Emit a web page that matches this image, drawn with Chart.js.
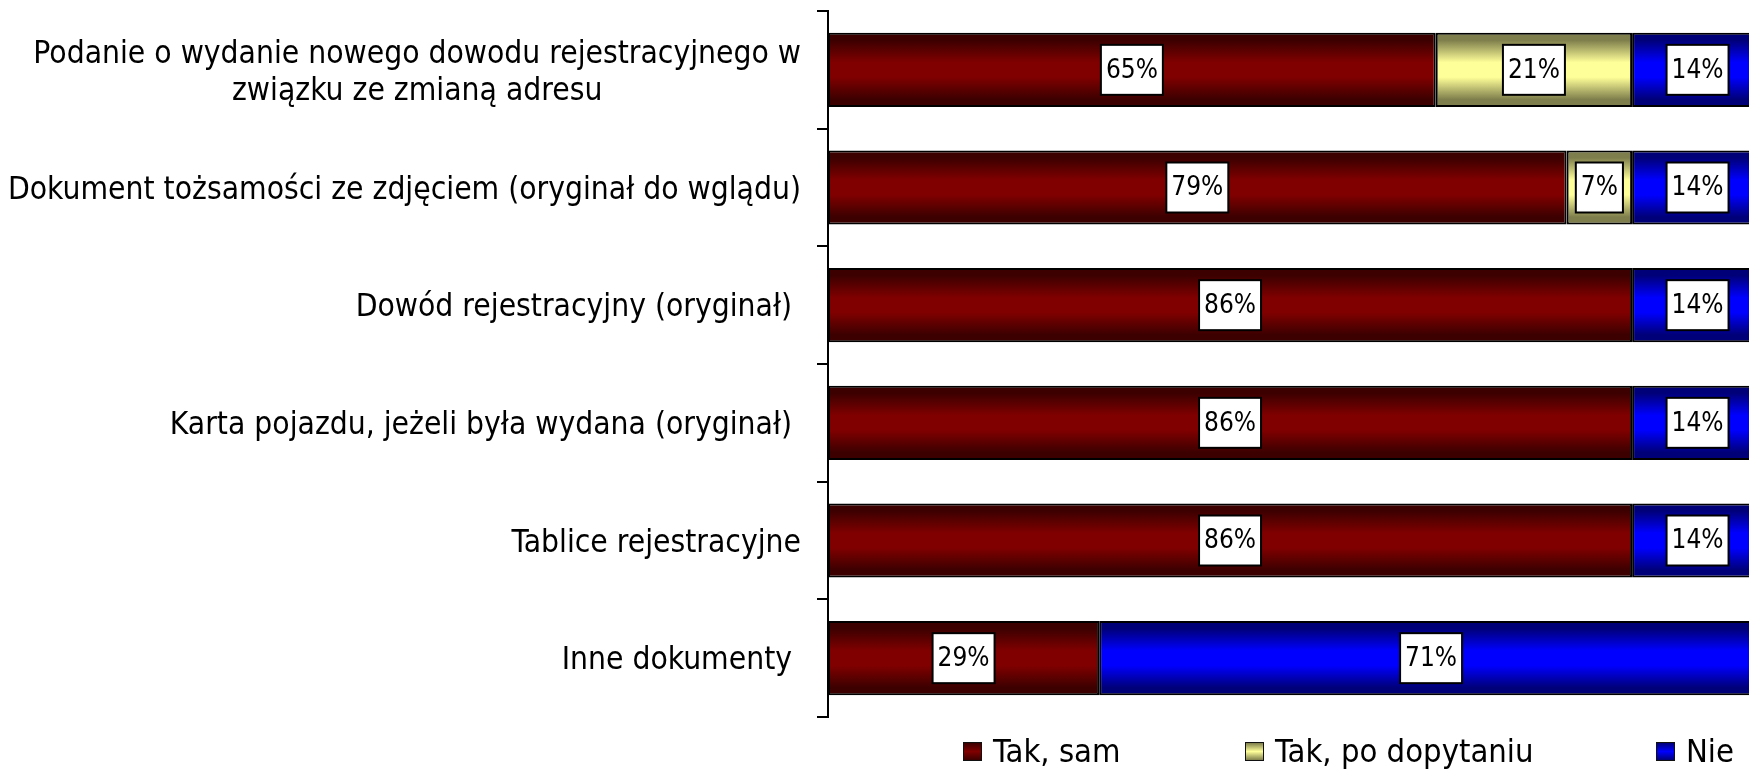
<!DOCTYPE html>
<html lang="pl">
<head>
<meta charset="utf-8">
<title>Dokumenty</title>
<script src="https://cdn.jsdelivr.net/npm/chart.js@4.4.1/dist/chart.umd.min.js"></script>
<style>
  html, body { margin: 0; padding: 0; background: #fff; overflow: hidden; }
  #lienzo { position: relative; width: 1763px; height: 769px; }
  .pozycja {
    position: absolute; top: 731px; height: 40px;
    display: flex; align-items: center;
    font: 32.5px "DejaVu Sans Condensed", "DejaVu Sans", sans-serif; color: #000; white-space: nowrap;
  }
  .kwadrat { width: 17px; height: 17px; border: 1.5px solid #111; margin-right: 11px; }
</style>
</head>
<body>
<div id="lienzo">
  <canvas id="grafico" width="1763" height="769"></canvas>
</div>
<script>
const kategorie = [
  ['Podanie o wydanie nowego dowodu rejestracyjnego w', 'związku ze zmianą adresu'],
  'Dokument tożsamości ze zdjęciem (oryginał do wglądu)',
  'Dowód rejestracyjny (oryginał) ',
  'Karta pojazdu, jeżeli była wydana (oryginał) ',
  'Tablice rejestracyjne',
  'Inne dokumenty '
];
const serie = ['Tak, sam', 'Tak, po dopytaniu', 'Nie'];
const takSam = [65, 79, 86, 86, 86, 29];
const takPoDopytaniu = [21, 7, 0, 0, 0, 0];
const nie = [14, 14, 14, 14, 14, 71];

const FONT = '"DejaVu Sans Condensed", "DejaVu Sans", sans-serif';
const GRUBOSC = 0.63;
// kolory: [ciemny brzeg, jasny środek]
const kolory = [
  ['#3c0000', '#800000'],
  ['#7e7e4c', '#ffff99'],
  ['#000078', '#0000ff']
];
const legendaX = [963, 1245, 1656];

// pionowy gradient dla każdego paska osobno
function gradient(ciemny, jasny) {
  return (ctx) => {
    const chart = ctx.chart;
    const os = chart.scales.y;
    if (!os || ctx.type !== 'data') return jasny;
    const pas = (os.bottom - os.top) / kategorie.length;
    const srodek = os.getPixelForValue(ctx.dataIndex);
    if (!isFinite(srodek) || !(pas > 0)) return jasny;
    const pol = pas * GRUBOSC / 2;
    const g = chart.ctx.createLinearGradient(0, srodek - pol, 0, srodek + pol);
    g.addColorStop(0, ciemny);
    g.addColorStop(0.1, ciemny);
    g.addColorStop(0.4, jasny);
    g.addColorStop(0.6, jasny);
    g.addColorStop(0.9, ciemny);
    g.addColorStop(1, ciemny);
    return g;
  };
}

// opisy kategorii: blok wyrównany do prawej, linie wyśrodkowane w bloku
const etykietyKategorii = {
  id: 'etykietyKategorii',
  afterDraw(chart) {
    const c = chart.ctx;
    const os = chart.scales.y;
    const prawa = chart.chartArea.left - 27;
    c.save();
    c.font = '31.5px ' + FONT;
    c.fillStyle = '#000';
    c.textAlign = 'center';
    c.textBaseline = 'middle';
    kategorie.forEach((k, i) => {
      const linie = Array.isArray(k) ? k : [k];
      const szer = Math.max(...linie.map(l => c.measureText(l).width));
      const y0 = os.getPixelForValue(i) + 3 - (linie.length - 1) * 37 / 2;
      linie.forEach((l, j) => c.fillText(l, prawa - szer / 2, y0 + j * 37));
    });
    c.restore();
  }
};

const etykietyWartosci = {
  id: 'etykietyWartosci',
  afterDatasetsDraw(chart) {
    const c = chart.ctx;
    c.save();
    c.font = '26px ' + FONT;
    c.textAlign = 'center';
    c.textBaseline = 'middle';
    chart.data.datasets.forEach((ds, d) => {
      chart.getDatasetMeta(d).data.forEach((bar, i) => {
        const v = ds.data[i];
        if (!v) return;
        const {x, base, y} = bar.getProps(['x', 'base', 'y'], true);
        const cx = (x + base) / 2;
        const tekst = v + '%';
        const w = c.measureText(tekst).width + 10;
        const h = 50;
        c.fillStyle = '#fff';
        c.fillRect(cx - w / 2, y - h / 2, w, h);
        c.strokeStyle = '#000';
        c.lineWidth = 2;
        c.strokeRect(cx - w / 2, y - h / 2, w, h);
        c.fillStyle = '#000';
        c.fillText(tekst, cx, y + 1);
      });
    });
    c.restore();
  }
};

document.addEventListener('DOMContentLoaded', () => {
  const lienzo = document.querySelector('#grafico');
  const wartosci = [takSam, takPoDopytaniu, nie];

  new Chart(lienzo, {
    type: 'bar',
    data: {
      labels: kategorie,
      datasets: serie.map((nazwa, s) => ({
        label: nazwa,
        data: wartosci[s],
        backgroundColor: gradient(kolory[s][0], kolory[s][1]),
        borderColor: '#000',
        borderWidth: 2,
        borderSkipped: false,
        categoryPercentage: 1,
        barPercentage: GRUBOSC
      }))
    },
    options: {
      indexAxis: 'y',
      responsive: false,
      animation: false,
      layout: { padding: { top: 11, bottom: 52, left: 0, right: 0 } },
      plugins: { legend: { display: false }, tooltip: { enabled: false } },
      scales: {
        x: { stacked: true, min: 0, max: 100, display: false },
        y: {
          stacked: true,
          offset: true,
          grid: { offset: true, drawOnChartArea: false, color: '#000', lineWidth: 2, tickLength: 11 },
          border: { color: '#000', width: 2 },
          ticks: { display: false },
          afterFit: (os) => { os.width = 828; }
        }
      }
    },
    plugins: [etykietyKategorii, etykietyWartosci]
  });

  // legenda pod wykresem
  const pojemnik = document.querySelector('#lienzo');
  serie.forEach((nazwa, s) => {
    const poz = document.createElement('div');
    poz.className = 'pozycja';
    poz.style.left = legendaX[s] + 'px';
    const kw = document.createElement('span');
    kw.className = 'kwadrat';
    kw.style.background = `linear-gradient(${kolory[s][0]}, ${kolory[s][1]} 50%, ${kolory[s][0]})`;
    poz.appendChild(kw);
    poz.appendChild(document.createTextNode(nazwa));
    pojemnik.appendChild(poz);
  });
});
</script>
</body>
</html>
